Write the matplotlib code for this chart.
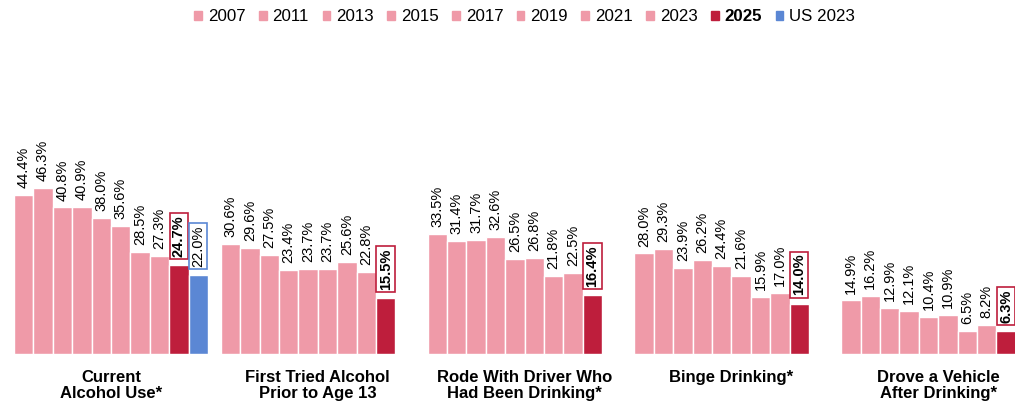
import matplotlib.pyplot as plt
from matplotlib.patches import Patch

years = ['2007', '2011', '2013', '2015', '2017', '2019', '2021', '2023', '2025', 'US 2023']
categories = ['Current\nAlcohol Use*', 'First Tried Alcohol\nPrior to Age 13',
              'Rode With Driver Who\nHad Been Drinking*', 'Binge Drinking*',
              'Drove a Vehicle\nAfter Drinking*']
values = [
    [44.4, 46.3, 40.8, 40.9, 38.0, 35.6, 28.5, 27.3, 24.7, 22.0],
    [30.6, 29.6, 27.5, 23.4, 23.7, 23.7, 25.6, 22.8, 15.5, None],
    [33.5, 31.4, 31.7, 32.6, 26.5, 26.8, 21.8, 22.5, 16.4, None],
    [28.0, 29.3, 23.9, 26.2, 24.4, 21.6, 15.9, 17.0, 14.0, None],
    [14.9, 16.2, 12.9, 12.1, 10.4, 10.9, 6.5, 8.2, 6.3, None],
]

pink = '#EF9AA8'
red = '#BE1E3C'
blue = '#5B87D4'
colors = [pink] * 8 + [red, blue]

plt.rcParams['font.family'] = ['Liberation Sans Narrow', 'Liberation Sans', 'DejaVu Sans']

fig = plt.figure(figsize=(10.15, 4.07), dpi=100)
ax = fig.add_axes([0, 53 / 407, 1, 0.6])
ax.set_xlim(-0.72, 51.6)
ax.set_ylim(0, 68)

pitch = 10.66
for g, vals in enumerate(values):
    for i, v in enumerate(vals):
        if v is None:
            continue
        x = g * pitch + i + 0.5
        ax.bar(x, v, width=1, color=colors[i], edgecolor='white', linewidth=1)
        if i < 8:
            ax.annotate(f'{v:.1f}%', (x, v), xytext=(0, 5), textcoords='offset points',
                        rotation=90, ha='center', va='bottom', fontsize=10.5)
        else:
            ax.annotate(f'{v:.1f}%', (x, v), xytext=(0, 6), textcoords='offset points',
                        rotation=90, ha='center', va='bottom', fontsize=10.5,
                        fontweight='bold' if i == 8 else 'normal',
                        bbox=dict(boxstyle='square,pad=0.15', fc='white',
                                  ec=colors[i], lw=1.2))
    ax.text(g * pitch + 5, -4.5, categories[g], ha='center', va='top',
            fontsize=12, fontweight='bold', family=['Liberation Sans', 'DejaVu Sans'],
            linespacing=1.1)

ax.axis('off')

handles = [Patch(color=c) for c in colors]
leg = fig.legend(handles, years, loc='upper center', bbox_to_anchor=(0.517, 1.015),
                 ncol=10, frameon=False, handlelength=0.45, handleheight=0.45,
                 handletextpad=0.35, columnspacing=0.8,
                 prop={'family': ['Liberation Sans', 'DejaVu Sans'], 'size': 12.2})
leg.get_texts()[8].set_fontweight('bold')

fig.savefig('out.png', dpi=100)
